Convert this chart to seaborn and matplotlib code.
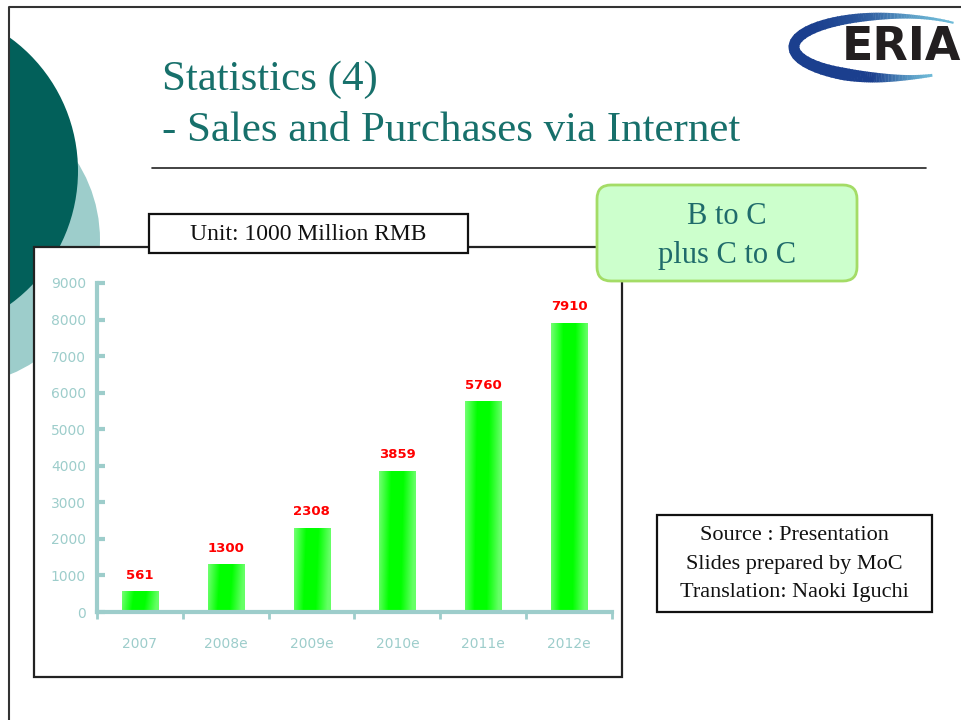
import numpy as np
import pandas as pd
import matplotlib
matplotlib.use("Agg")
import matplotlib.pyplot as plt
from matplotlib import font_manager
from matplotlib.patches import Circle, Rectangle, FancyBboxPatch, Arc
from matplotlib.colors import LinearSegmentedColormap
import seaborn as sns

# ---------------- data ----------------
years = ["2007", "2008e", "2009e", "2010e", "2011e", "2012e"]
sales = [561, 1300, 2308, 3859, 5760, 7910]
value_labels = ["561", "1300", "2308", "3859", "5760", "7910"]
y_ticks = [0, 1000, 2000, 3000, 4000, 5000, 6000, 7000, 8000, 9000]

title_line1 = "Statistics (4)"
title_line2 = "- Sales and Purchases via Internet"
unit_text = "Unit: 1000 Million RMB"
box_lines = ["B to C", "plus C to C"]
source_lines = ["Source : Presentation", "Slides prepared by MoC", "Translation: Naoki Iguchi"]

sns.set_theme(style="white")
available = {f.name for f in font_manager.fontManager.ttflist}
narrow = "Liberation Sans Narrow" if "Liberation Sans Narrow" in available else "DejaVu Sans"
serif = "Liberation Serif"
plt.rcParams["font.family"] = ["DejaVu Sans"]

W, H = 962, 720
fig = plt.figure(figsize=(W / 100, H / 100), dpi=100)
fig.patch.set_facecolor("white")

# background axes in pixel coordinates (origin top-left)
bg = fig.add_axes([0, 0, 1, 1])
bg.set_xlim(0, W)
bg.set_ylim(H, 0)
bg.axis("off")
bg.set_zorder(0)

clip_rect = Rectangle((9, 7), W, H, transform=bg.transData, facecolor="none", edgecolor="none")
light = Circle((-45.6, 240), 145.6, facecolor="#9dcdcb", edgecolor="none", zorder=1)
dark = Circle((-86.6, 171), 164.6, facecolor="#02605a", edgecolor="none", zorder=2)
for c in (light, dark):
    bg.add_patch(c)
    c.set_clip_path(clip_rect)

# slide border
bg.plot([9, 9, W + 5], [H + 5, 7, 7], color="#333333", lw=1.5, zorder=3, solid_capstyle="butt")

# logo swoosh: tapered ellipse, thick on the lower left
cx, cy, ew, eh = 892, 47, 196, 62
dark_blue = np.array([0x1b, 0x3f, 0x8e]) / 255
light_blue = np.array([0x6f, 0xbb, 0xd8]) / 255
angles = np.linspace(35, 338, 120)
for a0, a1 in zip(angles[:-1], angles[1:]):
    am = 0.5 * (a0 + a1)
    if am <= 150:
        f = (am - 35) / (150 - 35)
        lw = 2.0 + 7.0 * f
    else:
        f = (338 - am) / (338 - 150)
        lw = 1.5 + 7.5 * f
    col = light_blue + (dark_blue - light_blue) * min(1.0, f * 1.3)
    arc = Arc((cx, cy), ew, eh, theta1=a0, theta2=a1 + 0.6, lw=lw, color=col, zorder=3)
    arc.set_capstyle("butt")
    bg.add_patch(arc)
bg.text(842, 48, "ERIA", fontsize=33, fontweight="bold", color="#231f20",
        family="DejaVu Sans", va="center", ha="left", zorder=4)

# titles
bg.text(162, 80, title_line1, fontsize=31, color="#17706b", family=serif, va="center", ha="left", zorder=4)
bg.text(162, 131, title_line2, fontsize=31, color="#17706b", family=serif, va="center", ha="left", zorder=4)
bg.plot([152, 926], [168, 168], color="#222222", lw=1.2, zorder=4)

# chart frame
bg.add_patch(Rectangle((34, 247), 588, 430, facecolor="white", edgecolor="#222222", lw=1.6, zorder=5))
# unit box
bg.add_patch(Rectangle((149, 214), 319, 39, facecolor="white", edgecolor="#111111", lw=1.6, zorder=6))
bg.text(308, 235, unit_text, fontsize=17, color="#111111", family=serif, va="center", ha="center", zorder=7)
# green box
bg.add_patch(FancyBboxPatch((597, 185), 260, 96, boxstyle="round,pad=0,rounding_size=14",
                            facecolor="#ccffcc", edgecolor="#a4dc66", lw=2, zorder=6))
bg.text(727, 216, box_lines[0], fontsize=22, color="#1f6b6b", family=serif, va="center", ha="center", zorder=7)
bg.text(727, 256, box_lines[1], fontsize=22, color="#1f6b6b", family=serif, va="center", ha="center", zorder=7)
# source box
bg.add_patch(Rectangle((657, 515), 275, 97, facecolor="white", edgecolor="#111111", lw=1.6, zorder=6))
for i, line in enumerate(source_lines):
    bg.text(794, 536 + 28 * i, line, fontsize=16, color="#111111", family=serif,
            va="center", ha="center", zorder=7)

# ---------------- chart ----------------
ax = fig.add_axes([97 / W, 1 - 612 / H, 515 / W, (612 - 283) / H])
ax.set_zorder(2)
ax.patch.set_alpha(0)
df = pd.DataFrame({"year": years, "sales": sales})
sns.barplot(data=df, x="year", y="sales", ax=ax, width=0.42, color="#22f022",
            saturation=1, edgecolor="none")
ax.set_xlim(-0.5, len(years) - 0.5)
ax.set_ylim(0, 9000)

# gradient fill on each bar
cmap = LinearSegmentedColormap.from_list("g", ["#70ff70", "#00ff00", "#00ff00", "#66ff66"])
for p in ax.patches:
    x0, y0 = p.get_x(), p.get_y()
    w, h = p.get_width(), p.get_height()
    u = np.linspace(0, 1, 40)[None, :]
    v = np.linspace(0, 1, 200)[:, None]
    grad = np.clip(u + 0.08 * (1 - v), 0, 1)
    im = ax.imshow(grad, extent=(x0, x0 + w, y0, y0 + h), origin="lower", aspect="auto",
                   cmap=cmap, vmin=0, vmax=1, zorder=p.get_zorder() + 0.1)
    im.set_clip_path(p)
ax.set_xlim(-0.5, len(years) - 0.5)
ax.set_ylim(0, 9000)

ax.bar_label(ax.containers[0], labels=value_labels, padding=7, color="#ff0000",
             fontsize=9.5, fontweight="bold", family=narrow)

axis_col = "#9dcdcb"
for s in ("top", "right"):
    ax.spines[s].set_visible(False)
for s in ("left", "bottom"):
    ax.spines[s].set_color(axis_col)
    ax.spines[s].set_linewidth(3)

ax.set_yticks(y_ticks)
ax.set_yticklabels([str(t) for t in y_ticks])
ax.set_xticks(range(len(years)))
ax.set_xticks(np.arange(-0.5, len(years), 1), minor=True)
ax.tick_params(axis="y", direction="in", length=6, width=3, color=axis_col,
               labelcolor=axis_col, labelsize=10, pad=8, left=True)
ax.tick_params(axis="x", which="major", length=0, pad=18, labelcolor=axis_col, labelsize=10)
ax.tick_params(axis="x", which="minor", direction="out", length=5, width=2, color=axis_col, bottom=True)
for lab in ax.get_xticklabels() + ax.get_yticklabels():
    lab.set_family(narrow)
ax.set_xlabel("")
ax.set_ylabel("")
ax.grid(False)

fig.savefig("out.png", dpi=100, facecolor="white")
